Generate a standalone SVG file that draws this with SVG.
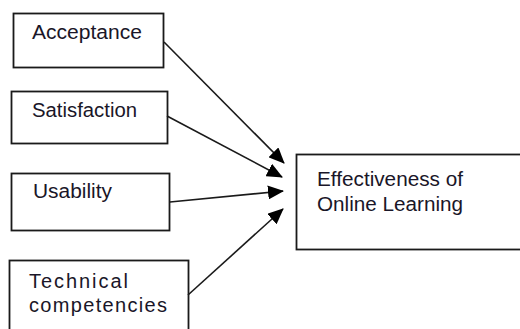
<svg xmlns="http://www.w3.org/2000/svg" width="520" height="329" viewBox="0 0 520 329">
<defs>
<style>
.box{fill:#fff;stroke:#1a1a1a;stroke-width:1.8}
.lbl{font-family:"Liberation Sans",Arial,sans-serif;font-size:20px;fill:#1a1628}
.edge{stroke:#1a1a1a;stroke-width:1.6;fill:none;marker-end:url(#ah)}
</style>
<marker id="ah" markerUnits="userSpaceOnUse" markerWidth="16" markerHeight="14" refX="15" refY="7" orient="auto" viewBox="0 0 16 14">
<path d="M0,0 L16,7 L0,14 Z" fill="#000"/>
</marker>
</defs>
<rect width="520" height="329" fill="#fff"/>
<g id="acceptance">
<rect class="box" x="13.5" y="13.5" width="150" height="54"/>
<text class="lbl" x="32" y="39" textLength="110" lengthAdjust="spacingAndGlyphs">Acceptance</text>
</g>
<g id="satisfaction">
<rect class="box" x="11.5" y="91.5" width="156" height="52"/>
<text class="lbl" x="32" y="117" textLength="105" lengthAdjust="spacingAndGlyphs">Satisfaction</text>
</g>
<g id="usability">
<rect class="box" x="11.5" y="173.5" width="158" height="57"/>
<text class="lbl" x="33" y="198" textLength="79" lengthAdjust="spacingAndGlyphs">Usability</text>
</g>
<g id="technical">
<rect class="box" x="9.5" y="260.5" width="179" height="90"/>
<text class="lbl" x="29" y="288" textLength="99" lengthAdjust="spacing">Technical</text>
<text class="lbl" x="29" y="312" textLength="138" lengthAdjust="spacing">competencies</text>
</g>
<g id="effectiveness">
<rect class="box" x="296.5" y="154.5" width="240" height="95"/>
<text class="lbl" x="317" y="186" textLength="146" lengthAdjust="spacingAndGlyphs">Effectiveness of</text>
<text class="lbl" x="317" y="211" textLength="146" lengthAdjust="spacingAndGlyphs">Online Learning</text>
</g>
<g id="connectors">
<line class="edge" x1="164" y1="42" x2="284" y2="163"/>
<line class="edge" x1="167" y1="116" x2="282" y2="177"/>
<line class="edge" x1="170" y1="202" x2="283" y2="191"/>
<line class="edge" x1="188" y1="295" x2="283" y2="209"/>
</g>
</svg>
